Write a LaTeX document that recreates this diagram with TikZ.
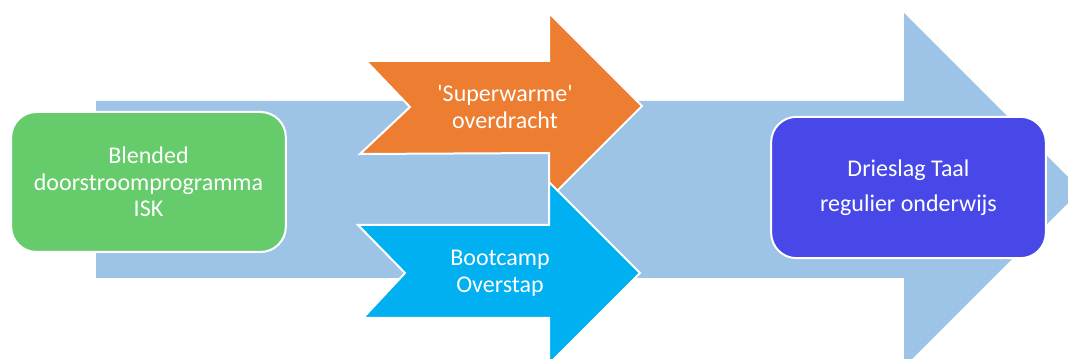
\documentclass[tikz,border=0pt]{standalone}
\usepackage{fontspec}
\setmainfont{Carlito}
\usetikzlibrary{positioning}
\definecolor{flowblue}{RGB}{157,195,230}
\definecolor{blendgreen}{RGB}{102,204,107}
\definecolor{warmorange}{RGB}{237,125,49}
\definecolor{campcyan}{RGB}{0,176,240}
\definecolor{taalblue}{RGB}{72,72,232}

\begin{document}
\begin{tikzpicture}[x=0.75pt,y=-0.75pt,
    box/.style={draw=white,line width=1.5pt,rounded corners=19pt,text=white,align=center,
      font=\fontsize{18}{20}\selectfont,inner sep=0pt,minimum width=206pt,minimum height=105pt},
    shaft/.style={draw=white,line width=1.5pt,line join=miter},
    label/.style={text=white,align=center,font=\fontsize{18}{20}\selectfont,inner sep=0pt}]
		\clip (0,0) rectangle (1068,359);
		% big arrow in the back
		\fill[flowblue] (96,101) -- (904,101) -- (904,13) -- (1081,190) -- (904,367) -- (904,278) -- (96,278) -- cycle;
		\node[box,fill=blendgreen] (blended) at (148.5,182) {Blended\\doorstroomprogramma\\ISK};
		
		\draw[shaft,fill=warmorange] (366,61) -- (549,61) -- (549,13) -- (642,106) -- (549,199) -- (549,153) -- (360,154) -- (410,107) -- cycle;
		\node[label] (warm) at (505,107) {\textquotesingle Superwarme\textquotesingle\\overdracht};
		\draw[shaft,fill=campcyan] (358,225) -- (549,225) -- (549,182) -- (640,273) -- (549,364) -- (549,318) -- (363,318) -- (405,273) -- cycle;
		\node[label] (camp) at (500,273) {Bootcamp\\Overstap};
		
		\node[box,fill=taalblue,minimum height=106pt,font=\fontsize{18}{26}\selectfont] (drieslag) at (908.5,187.5) {Drieslag Taal\\regulier onderwijs};
	\end{tikzpicture}
\end{document}
